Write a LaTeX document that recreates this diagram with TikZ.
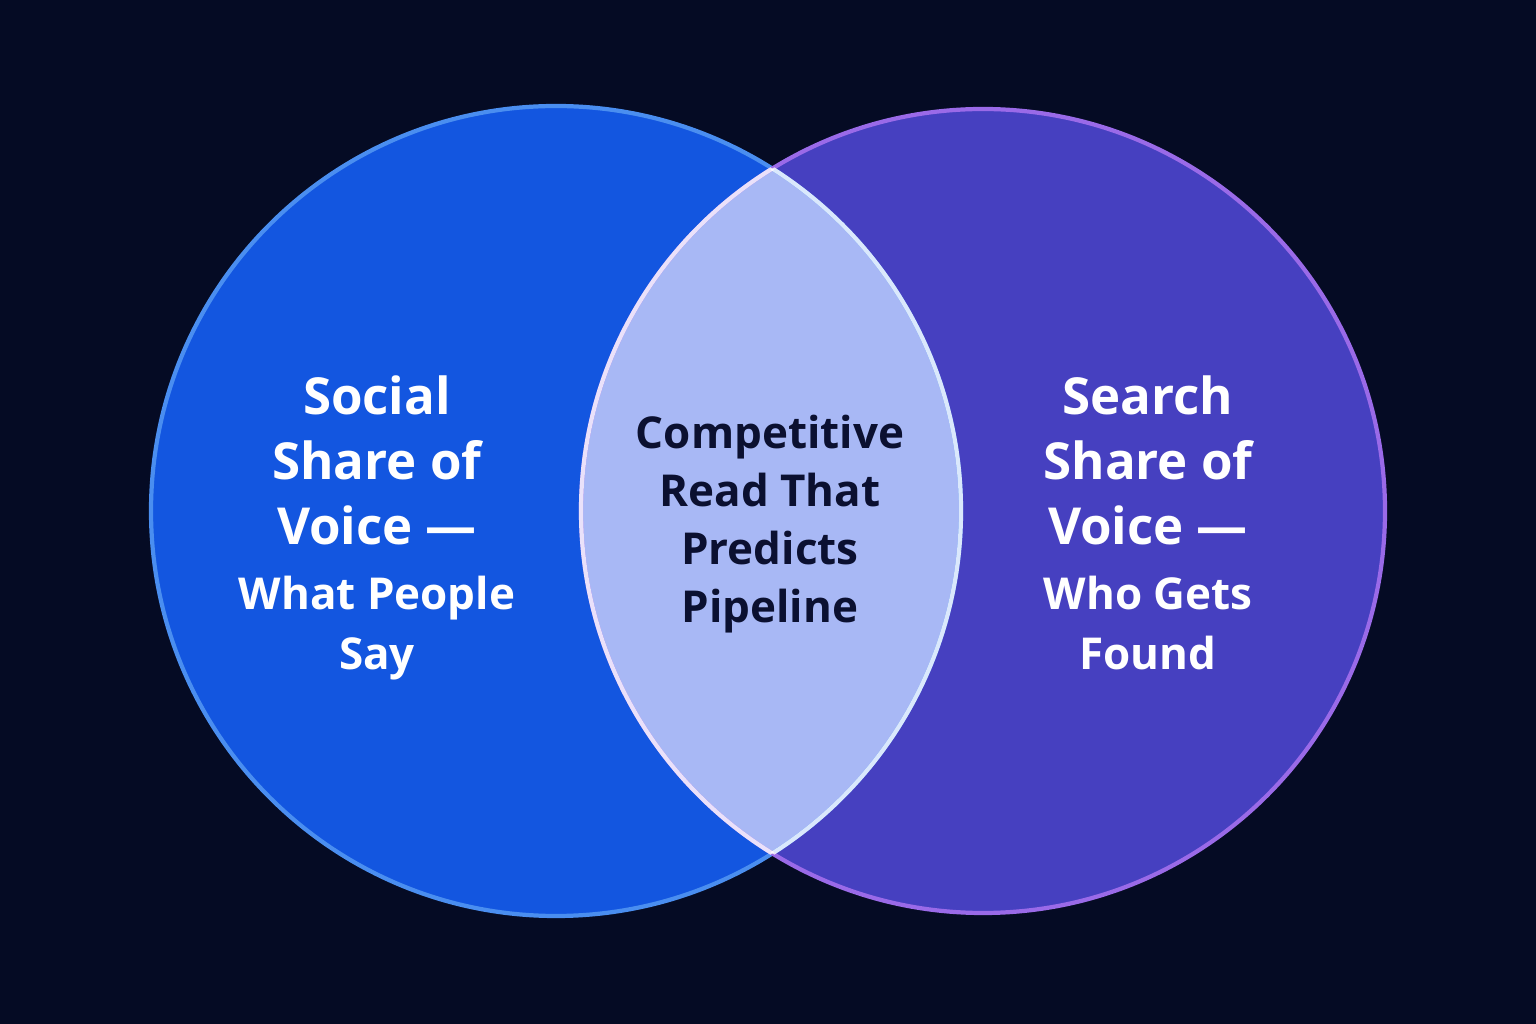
\documentclass[tikz,border=0pt]{standalone}
\usepackage{fontspec}
\setmainfont{Open Sans}
\usetikzlibrary{positioning}
\definecolor{bgdark}{HTML}{050B24}
\definecolor{socialfill}{HTML}{1356E0}
\definecolor{socialedge}{HTML}{4A8EF0}
\definecolor{searchfill}{HTML}{4640C0}
\definecolor{searchedge}{HTML}{9A6AE8}
\definecolor{overlapfill}{HTML}{A8B8F5}
\definecolor{overlaptext}{HTML}{0B1030}
\tikzset{
  bigtext/.style={font=\fontsize{14.5}{18.5}\selectfont\bfseries, text=white, align=center},
  smalltext/.style={font=\fontsize{12.5}{17}\selectfont\bfseries, text=white, align=center},
  midtext/.style={font=\fontsize{12.5}{16.5}\selectfont\bfseries, text=overlaptext, align=center}
}
\begin{document}
\begin{tikzpicture}[x=0.01cm,y=0.01cm]
\fill [bgdark] (0,0) rectangle (1536,1024);
\useasboundingbox (0,0) rectangle (1536,1024);

%KREIS LINKS
\fill [socialfill] (556,513) circle (405);
%KREIS RECHTS
\fill [searchfill] (983,513) circle (402);
%SCHNITTMENGE
\begin{scope}
\clip (556,513) circle (405);
\fill [overlapfill] (983,513) circle (402);
\end{scope}
\draw [socialedge, line width=1.2pt] (556,513) circle (405);
\draw [searchedge, line width=1.2pt] (983,513) circle (402);
\begin{scope}
\clip (556,513) circle (405);
\draw [white, opacity=0.8, line width=1.2pt] (983,513) circle (402);
\end{scope}
\begin{scope}
\clip (983,513) circle (402);
\draw [white, opacity=0.8, line width=1.2pt] (556,513) circle (405);
\end{scope}

%TEXTE
\node [bigtext] (social) at (377,564) {Social\\Share of\\Voice ---};
\node [smalltext, below=2pt of social] (socialsub) {What People\\Say};
\node [bigtext] (search) at (1148,564) {Search\\Share of\\Voice ---};
\node [smalltext, below=2pt of search] (searchsub) {Who Gets\\Found};
\node [midtext] (overlap) at (770,500) {Competitive\\Read That\\Predicts\\Pipeline};
\end{tikzpicture}
\end{document}
